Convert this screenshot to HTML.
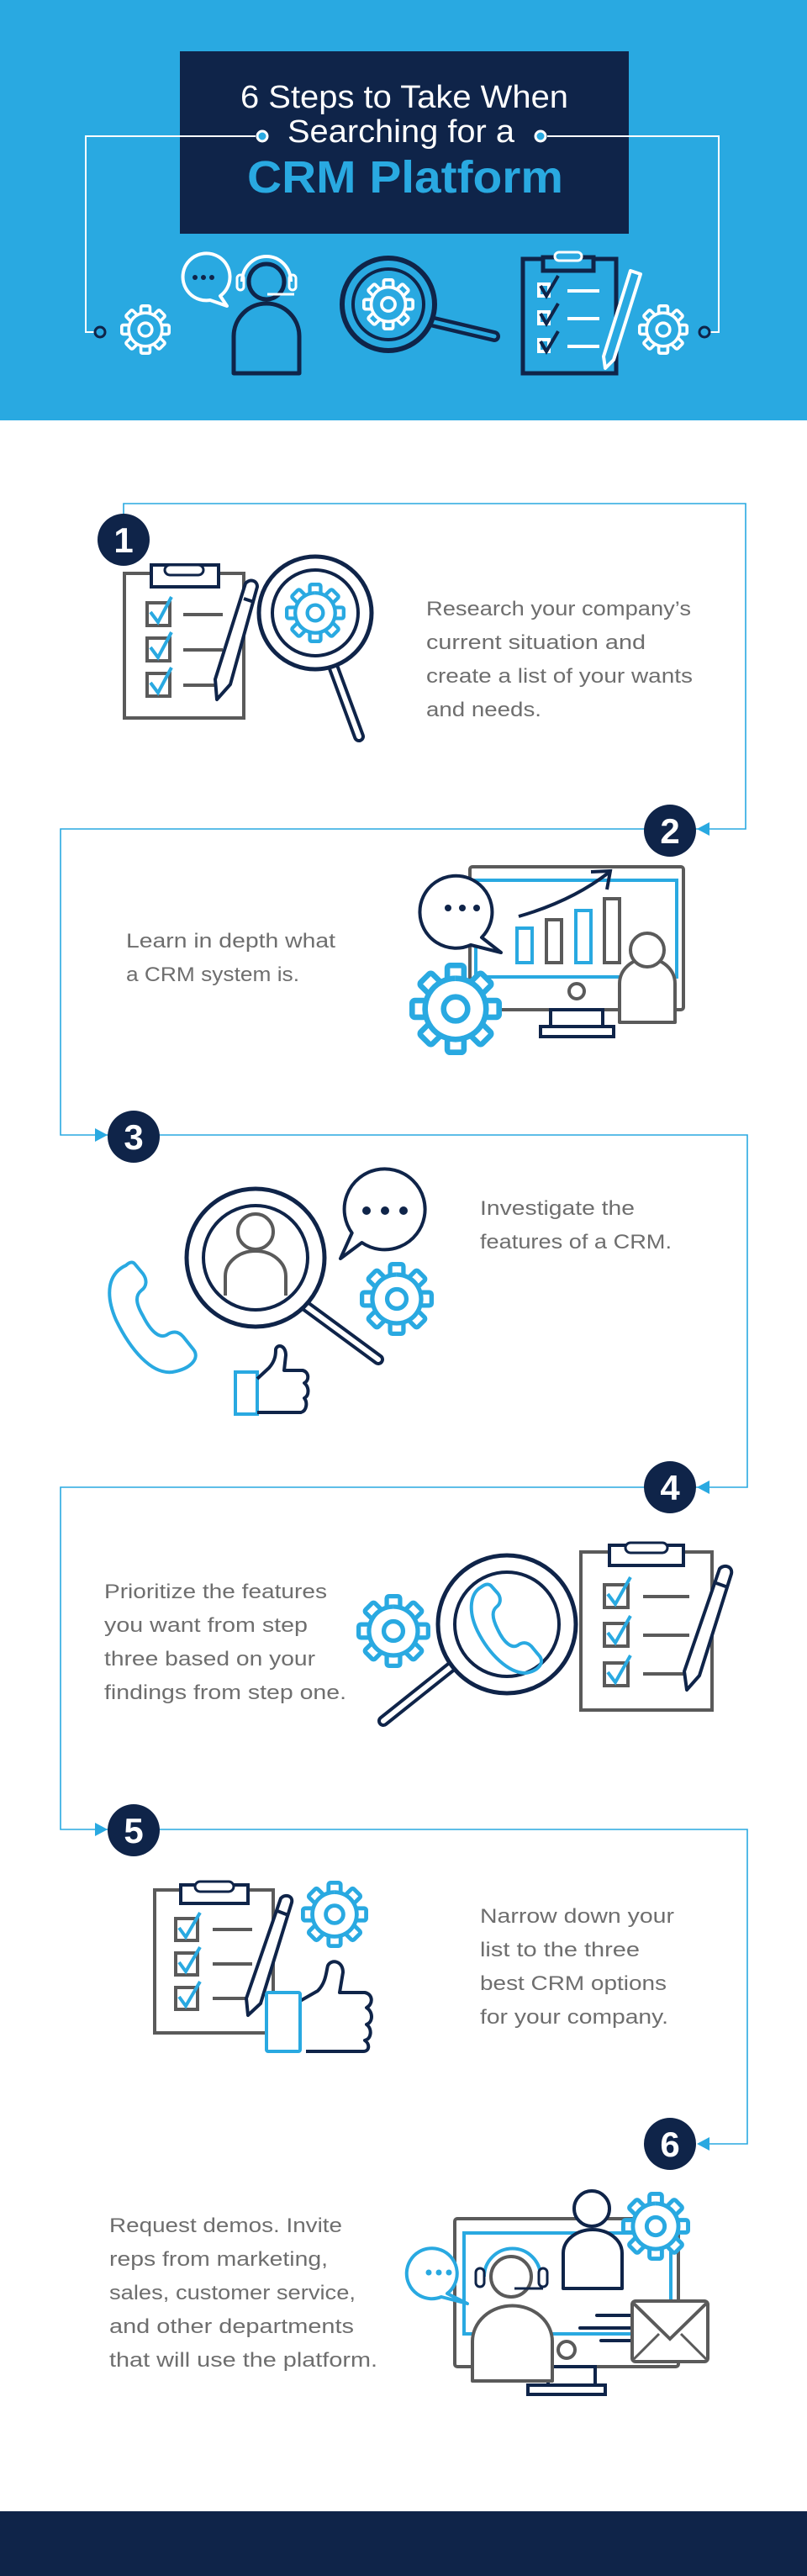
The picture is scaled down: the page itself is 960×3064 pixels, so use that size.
<!DOCTYPE html>
<html><head><meta charset="utf-8"><style>
html,body{margin:0;padding:0;background:#fff}
svg{display:block}
text{font-family:"Liberation Sans",sans-serif}
.b{font-size:24px;fill:#6e6e6e}
</style></head><body>
<svg width="960" height="3064" viewBox="0 0 960 3064" xmlns="http://www.w3.org/2000/svg">
<defs>
<symbol id="gear" viewBox="-50 -50 100 100" overflow="visible">
<g stroke-width="6">
<rect x="-9" y="-47" width="18" height="22" rx="3"/>
<rect x="-9" y="-47" width="18" height="22" rx="3" transform="rotate(45)"/>
<rect x="-9" y="-47" width="18" height="22" rx="3" transform="rotate(90)"/>
<rect x="-9" y="-47" width="18" height="22" rx="3" transform="rotate(135)"/>
<rect x="-9" y="-47" width="18" height="22" rx="3" transform="rotate(180)"/>
<rect x="-9" y="-47" width="18" height="22" rx="3" transform="rotate(225)"/>
<rect x="-9" y="-47" width="18" height="22" rx="3" transform="rotate(270)"/>
<rect x="-9" y="-47" width="18" height="22" rx="3" transform="rotate(315)"/>
<circle r="33" stroke="none"/>
<path d="M0,-33 A33,33 0 1 1 -0.1,-33" fill="none"/>
<circle r="13"/>
</g>
</symbol>
</defs>

<!-- HEADER -->
<rect x="0" y="0" width="960" height="500" fill="#29a9e1"/>
<rect x="214" y="61" width="534" height="217" fill="#0f2449"/>
<text x="481" y="128" text-anchor="middle" font-size="38" fill="#fff" textLength="390" lengthAdjust="spacingAndGlyphs">6 Steps to Take When</text>
<text x="477" y="169" text-anchor="middle" font-size="38" fill="#fff" textLength="270" lengthAdjust="spacingAndGlyphs">Searching for a</text>
<text x="482" y="229" text-anchor="middle" font-size="54" font-weight="bold" fill="#29a9e1" textLength="376" lengthAdjust="spacingAndGlyphs">CRM Platform</text>
<g stroke="#fff" stroke-width="2" fill="none">
<polyline points="304,162 102,162 102,395 113,395"/>
<polyline points="651,162 855,162 855,395 844,395"/>
</g>
<circle cx="312" cy="162" r="6" fill="#29a9e1" stroke="#fff" stroke-width="3"/>
<circle cx="643" cy="162" r="6" fill="#29a9e1" stroke="#fff" stroke-width="3"/>
<circle cx="119" cy="395" r="6" fill="#29a9e1" stroke="#0f2449" stroke-width="3"/>
<circle cx="838" cy="395" r="6" fill="#29a9e1" stroke="#0f2449" stroke-width="3"/>
<use href="#gear" x="143" y="362" width="60" height="60" stroke="#fff" fill="#29a9e1"/>
<use href="#gear" x="759" y="362" width="60" height="60" stroke="#fff" fill="#29a9e1"/>
<path d="M262,352 A28,28 0 1 0 250,357 L270,364 Z" fill="none" stroke="#fff" stroke-width="4" stroke-linejoin="round"/>
<circle cx="232" cy="330" r="3" fill="#0f2449"/><circle cx="242" cy="330" r="3" fill="#0f2449"/><circle cx="252" cy="330" r="3" fill="#0f2449"/>
<path d="M278,444 V400 A39,39 0 0 1 356,400 V444 Z" fill="none" stroke="#0f2449" stroke-width="5" stroke-linejoin="round"/>
<circle cx="317" cy="335" r="21" fill="#29a9e1" stroke="#0f2449" stroke-width="5"/>
<path d="M288,335 A29,30 0 0 1 346,335" fill="none" stroke="#fff" stroke-width="4"/>
<rect x="282" y="327" width="8" height="18" rx="4" fill="none" stroke="#fff" stroke-width="3"/>
<rect x="344" y="327" width="8" height="18" rx="4" fill="none" stroke="#fff" stroke-width="3"/>
<line x1="318" y1="350" x2="350" y2="350" stroke="#fff" stroke-width="3"/>
<line x1="512" y1="382" x2="588" y2="400" stroke="#0f2449" stroke-width="14" stroke-linecap="round"/>
<line x1="512" y1="382" x2="588" y2="400" stroke="#29a9e1" stroke-width="5" stroke-linecap="round"/>
<circle cx="462" cy="362" r="55" fill="#29a9e1" stroke="#0f2449" stroke-width="6"/>
<circle cx="462" cy="362" r="42" fill="none" stroke="#0f2449" stroke-width="4"/>
<use href="#gear" x="431" y="331" width="62" height="62" stroke="#fff" fill="#29a9e1"/>
<rect x="622" y="308" width="111" height="136" fill="none" stroke="#0f2449" stroke-width="5"/>
<rect x="646" y="306" width="60" height="16" fill="#29a9e1" stroke="#0f2449" stroke-width="5"/>
<rect x="660" y="300" width="32" height="10" rx="5" fill="#29a9e1" stroke="#fff" stroke-width="3"/>
<g stroke="#fff" stroke-width="4" fill="none">
<rect x="641" y="338" width="12" height="14"/><rect x="641" y="371" width="12" height="14"/><rect x="641" y="404" width="12" height="14"/>
<line x1="675" y1="346" x2="713" y2="346"/><line x1="675" y1="379" x2="713" y2="379"/><line x1="675" y1="412" x2="713" y2="412"/>
</g>
<g stroke="#0f2449" stroke-width="4" fill="none"><polyline points="643,340 650,352 664,328"/><polyline points="643,373 650,385 664,361"/><polyline points="643,406 650,418 664,394"/></g>
<path d="M750,322 L762,326 L730,428 L720,438 L718,424 Z" fill="#29a9e1" stroke="#fff" stroke-width="4" stroke-linejoin="round"/>

<!-- CONNECTORS -->
<g stroke="#29a9e1" stroke-width="1.6" fill="none">
<polyline points="147,612 147,599 887,599 887,986 72,986 72,1350 889,1350 889,1769 72,1769 72,2176 889,2176 889,2550 843,2550"/>
</g>
<g fill="#29a9e1">
<polygon points="829,986 844,978 844,994"/>
<polygon points="128,1350 113,1342 113,1358"/>
<polygon points="829,1769 844,1761 844,1777"/>
<polygon points="128,2176 113,2168 113,2184"/>
<polygon points="829,2550 844,2542 844,2558"/>
</g>
<g fill="#0f2449">
<circle cx="147" cy="642" r="31"/><circle cx="797" cy="988" r="31"/><circle cx="159" cy="1352" r="31"/>
<circle cx="797" cy="1769" r="31"/><circle cx="159" cy="2177" r="31"/><circle cx="797" cy="2550" r="31"/>
</g>
<g fill="#fff" font-size="42" font-weight="bold" text-anchor="middle">
<text x="147" y="657">1</text><text x="797" y="1003">2</text><text x="159" y="1367">3</text>
<text x="797" y="1784">4</text><text x="159" y="2192">5</text><text x="797" y="2565">6</text>
</g>

<!-- TEXT -->
<text class="b" x="507" y="732" textLength="315" lengthAdjust="spacingAndGlyphs">Research your company’s</text>
<text class="b" x="507" y="772" textLength="261" lengthAdjust="spacingAndGlyphs">current situation and</text>
<text class="b" x="507" y="812" textLength="317" lengthAdjust="spacingAndGlyphs">create a list of your wants</text>
<text class="b" x="507" y="852" textLength="137" lengthAdjust="spacingAndGlyphs">and needs.</text>

<text class="b" x="150" y="1127" textLength="249" lengthAdjust="spacingAndGlyphs">Learn in depth what</text>
<text class="b" x="150" y="1167" textLength="206" lengthAdjust="spacingAndGlyphs">a CRM system is.</text>

<text class="b" x="571" y="1445" textLength="184" lengthAdjust="spacingAndGlyphs">Investigate the</text>
<text class="b" x="571" y="1485" textLength="228" lengthAdjust="spacingAndGlyphs">features of a CRM.</text>

<text class="b" x="124" y="1901" textLength="265" lengthAdjust="spacingAndGlyphs">Prioritize the features</text>
<text class="b" x="124" y="1941" textLength="242" lengthAdjust="spacingAndGlyphs">you want from step</text>
<text class="b" x="124" y="1981" textLength="251" lengthAdjust="spacingAndGlyphs">three based on your</text>
<text class="b" x="124" y="2021" textLength="288" lengthAdjust="spacingAndGlyphs">findings from step one.</text>

<text class="b" x="571" y="2287" textLength="231" lengthAdjust="spacingAndGlyphs">Narrow down your</text>
<text class="b" x="571" y="2327" textLength="190" lengthAdjust="spacingAndGlyphs">list to the three</text>
<text class="b" x="571" y="2367" textLength="222" lengthAdjust="spacingAndGlyphs">best CRM options</text>
<text class="b" x="571" y="2407" textLength="224" lengthAdjust="spacingAndGlyphs">for your company.</text>

<text class="b" x="130" y="2655" textLength="277" lengthAdjust="spacingAndGlyphs">Request demos. Invite</text>
<text class="b" x="130" y="2695" textLength="260" lengthAdjust="spacingAndGlyphs">reps from marketing,</text>
<text class="b" x="130" y="2735" textLength="293" lengthAdjust="spacingAndGlyphs">sales, customer service,</text>
<text class="b" x="130" y="2775" textLength="291" lengthAdjust="spacingAndGlyphs">and other departments</text>
<text class="b" x="130" y="2815" textLength="319" lengthAdjust="spacingAndGlyphs">that will use the platform.</text>

<!-- STEP 1 ICONS -->
<rect x="148" y="682" width="142" height="172" fill="none" stroke="#5a5a5a" stroke-width="4"/>
<rect x="180" y="672" width="80" height="26" fill="#fff" stroke="#0f2449" stroke-width="4"/>
<rect x="196" y="672" width="46" height="12" rx="6" fill="#fff" stroke="#0f2449" stroke-width="3"/>
<g stroke="#5a5a5a" stroke-width="4" fill="none">
<rect x="175" y="717" width="27" height="27"/><rect x="175" y="759" width="27" height="27"/><rect x="175" y="801" width="27" height="27"/>
<line x1="218" y1="731" x2="265" y2="731"/><line x1="218" y1="773" x2="265" y2="773"/><line x1="218" y1="815" x2="265" y2="815"/>
</g>
<g stroke="#29a9e1" stroke-width="4" fill="none"><polyline points="179,728 188,740 204,710"/><polyline points="179,770 188,782 204,752"/><polyline points="179,812 188,824 204,794"/></g>
<path d="M292,694 C297,688 306,690 306,698 L274,814 L258,832 L256,808 Z" fill="#fff" stroke="#0f2449" stroke-width="4" stroke-linejoin="round"/>
<line x1="290" y1="712" x2="302" y2="716" stroke="#0f2449" stroke-width="4"/>
<line x1="396" y1="792" x2="427" y2="876" stroke="#0f2449" stroke-width="14" stroke-linecap="round"/>
<line x1="396" y1="792" x2="427" y2="876" stroke="#fff" stroke-width="6" stroke-linecap="round"/>
<circle cx="375" cy="729" r="67" fill="#fff" stroke="#0f2449" stroke-width="5"/>
<circle cx="375" cy="729" r="51" fill="none" stroke="#0f2449" stroke-width="4"/>
<use href="#gear" x="339" y="693" width="72" height="72" stroke="#29a9e1" fill="#fff"/>

<!-- STEP 2 ICONS -->
<rect x="559" y="1031" width="254" height="170" rx="3" fill="#fff" stroke="#5a5a5a" stroke-width="4"/>
<rect x="566" y="1047" width="239" height="115" fill="none" stroke="#29a9e1" stroke-width="4"/>
<circle cx="686" cy="1179" r="9" fill="none" stroke="#5a5a5a" stroke-width="4"/>
<rect x="655" y="1201" width="62" height="20" fill="none" stroke="#0f2449" stroke-width="4"/>
<rect x="643" y="1221" width="87" height="12" fill="none" stroke="#0f2449" stroke-width="4"/>
<g fill="none" stroke-width="4">
<rect x="615" y="1104" width="18" height="41" stroke="#29a9e1"/>
<rect x="650" y="1094" width="18" height="51" stroke="#5a5a5a"/>
<rect x="685" y="1083" width="18" height="62" stroke="#29a9e1"/>
<rect x="719" y="1069" width="18" height="76" stroke="#5a5a5a"/>
</g>
<path d="M617,1090 Q680,1072 724,1038" fill="none" stroke="#0f2449" stroke-width="4"/>
<polyline points="703,1037 726,1036 722,1058" fill="none" stroke="#0f2449" stroke-width="4"/>
<path d="M573,1115 A43,43 0 1 0 560,1124 L596,1133 Z" fill="#fff" stroke="#0f2449" stroke-width="4" stroke-linejoin="round"/>
<circle cx="533" cy="1080" r="4" fill="#0f2449"/><circle cx="550" cy="1080" r="4" fill="#0f2449"/><circle cx="567" cy="1080" r="4" fill="#0f2449"/>
<use href="#gear" x="487" y="1145" width="110" height="110" stroke="#29a9e1" fill="#fff"/>
<path d="M737,1216 V1170 A33,30 0 0 1 803,1170 V1216 Z" fill="#fff" stroke="#5a5a5a" stroke-width="4" stroke-linejoin="round"/>
<circle cx="770" cy="1130" r="20" fill="#fff" stroke="#5a5a5a" stroke-width="4"/>

<!-- STEP 3 ICONS -->
<path d="M150,1505 C128,1515 125,1540 138,1570 C155,1605 180,1635 205,1632 C228,1628 238,1615 230,1605 L218,1590 C212,1583 205,1583 198,1588 C190,1592 180,1585 170,1565 C160,1548 162,1540 168,1535 C175,1530 175,1522 170,1515 L160,1503 C157,1500 153,1502 150,1505 Z" fill="none" stroke="#29a9e1" stroke-width="4" stroke-linejoin="round"/>
<line x1="363" y1="1553" x2="450" y2="1617" stroke="#0f2449" stroke-width="14" stroke-linecap="round"/>
<line x1="363" y1="1553" x2="450" y2="1617" stroke="#fff" stroke-width="6" stroke-linecap="round"/>
<circle cx="304" cy="1496" r="82" fill="#fff" stroke="#0f2449" stroke-width="5"/>
<circle cx="304" cy="1496" r="62" fill="none" stroke="#0f2449" stroke-width="4"/>
<circle cx="304" cy="1465" r="21" fill="none" stroke="#5a5a5a" stroke-width="4"/>
<path d="M268,1541 V1518 A36,30 0 0 1 340,1518 V1541" fill="none" stroke="#5a5a5a" stroke-width="4"/>
<path d="M430.5,1478 A48,48 0 1 0 418.7,1466.5 L405,1497 Z" fill="#fff" stroke="#0f2449" stroke-width="4" stroke-linejoin="round"/>
<circle cx="436" cy="1440" r="5" fill="#0f2449"/><circle cx="458" cy="1440" r="5" fill="#0f2449"/><circle cx="480" cy="1440" r="5" fill="#0f2449"/>
<use href="#gear" x="428" y="1501" width="88" height="88" stroke="#29a9e1" fill="#fff"/>
<rect x="280" y="1632" width="26" height="50" fill="none" stroke="#29a9e1" stroke-width="4"/>
<path d="M306,1640 L320,1627 C328,1618 328,1610 328,1605 C330,1598 340,1600 340,1612 L338,1630 L360,1630 C368,1632 368,1642 362,1645 C368,1650 368,1660 362,1663 C366,1668 365,1678 358,1680 L306,1680" fill="none" stroke="#0f2449" stroke-width="4" stroke-linejoin="round"/>

<!-- STEP 4 ICONS -->
<use href="#gear" x="424" y="1896" width="88" height="88" stroke="#29a9e1" fill="#fff"/>
<line x1="540" y1="1980" x2="456" y2="2047" stroke="#0f2449" stroke-width="14" stroke-linecap="round"/>
<line x1="540" y1="1980" x2="456" y2="2047" stroke="#fff" stroke-width="6" stroke-linecap="round"/>
<circle cx="603" cy="1932" r="82" fill="#fff" stroke="#0f2449" stroke-width="5"/>
<circle cx="603" cy="1932" r="62" fill="none" stroke="#0f2449" stroke-width="4"/>
<path d="M572,1888 C560,1895 556,1915 568,1940 C582,1968 605,1990 625,1990 C640,1988 648,1978 642,1970 L632,1958 C627,1953 621,1953 616,1957 C609,1961 600,1955 592,1938 C584,1922 586,1915 591,1911 C596,1907 596,1900 592,1895 L584,1886 C580,1883 576,1885 572,1888 Z" fill="none" stroke="#29a9e1" stroke-width="4" stroke-linejoin="round"/>
<rect x="691" y="1846" width="156" height="188" fill="#fff" stroke="#5a5a5a" stroke-width="4"/>
<rect x="725" y="1838" width="88" height="24" fill="#fff" stroke="#0f2449" stroke-width="4"/>
<rect x="744" y="1835" width="50" height="12" rx="6" fill="#fff" stroke="#0f2449" stroke-width="3"/>
<g stroke="#5a5a5a" stroke-width="4" fill="none">
<rect x="719" y="1885" width="28" height="27"/><rect x="719" y="1931" width="28" height="27"/><rect x="719" y="1978" width="28" height="27"/>
<line x1="765" y1="1899" x2="820" y2="1899"/><line x1="765" y1="1945" x2="820" y2="1945"/><line x1="765" y1="1991" x2="820" y2="1991"/>
</g>
<g stroke="#29a9e1" stroke-width="4" fill="none"><polyline points="723,1896 732,1908 750,1876"/><polyline points="723,1942 732,1954 750,1922"/><polyline points="723,1989 732,2001 750,1969"/></g>
<path d="M856,1866 C861,1860 872,1863 870,1872 L832,1993 L817,2010 L814,1988 Z" fill="#fff" stroke="#0f2449" stroke-width="4" stroke-linejoin="round"/>
<line x1="852" y1="1883" x2="866" y2="1888" stroke="#0f2449" stroke-width="4"/>

<!-- STEP 5 ICONS -->
<rect x="184" y="2248" width="141" height="170" fill="#fff" stroke="#5a5a5a" stroke-width="4"/>
<rect x="215" y="2242" width="80" height="22" fill="#fff" stroke="#0f2449" stroke-width="4"/>
<rect x="232" y="2238" width="46" height="12" rx="6" fill="#fff" stroke="#0f2449" stroke-width="3"/>
<g stroke="#5a5a5a" stroke-width="4" fill="none">
<rect x="209" y="2282" width="26" height="26"/><rect x="209" y="2323" width="26" height="26"/><rect x="209" y="2364" width="26" height="26"/>
<line x1="253" y1="2295" x2="300" y2="2295"/><line x1="253" y1="2336" x2="300" y2="2336"/><line x1="253" y1="2377" x2="300" y2="2377"/>
</g>
<g stroke="#29a9e1" stroke-width="4" fill="none"><polyline points="213,2293 221,2304 238,2275"/><polyline points="213,2334 221,2345 238,2316"/><polyline points="213,2375 221,2386 238,2357"/></g>
<path d="M334,2258 C339,2252 349,2255 347,2263 L310,2383 L295,2397 L293,2377 Z" fill="#fff" stroke="#0f2449" stroke-width="4" stroke-linejoin="round"/>
<line x1="330" y1="2273" x2="343" y2="2278" stroke="#0f2449" stroke-width="4"/>
<use href="#gear" x="358" y="2237" width="80" height="80" stroke="#29a9e1" fill="#fff"/>
<path d="M357,2380 L378,2368 C388,2358 388,2345 390,2338 C394,2330 408,2332 408,2346 L404,2370 L434,2370 C444,2372 444,2384 436,2388 C444,2393 444,2405 436,2408 C443,2413 442,2425 434,2427 C440,2431 440,2440 432,2440 L364,2440" fill="#fff" stroke="#0f2449" stroke-width="4" stroke-linejoin="round"/>
<rect x="317" y="2370" width="40" height="70" rx="2" fill="#fff" stroke="#29a9e1" stroke-width="4"/>

<!-- STEP 6 ICONS -->
<rect x="541" y="2639" width="266" height="176" rx="3" fill="#fff" stroke="#5a5a5a" stroke-width="4"/>
<rect x="552" y="2656" width="246" height="120" fill="none" stroke="#29a9e1" stroke-width="4"/>
<circle cx="674" cy="2795" r="10" fill="none" stroke="#5a5a5a" stroke-width="4"/>
<rect x="652" y="2815" width="56" height="22" fill="none" stroke="#0f2449" stroke-width="4"/>
<rect x="628" y="2837" width="92" height="11" fill="#fff" stroke="#0f2449" stroke-width="4"/>
<path d="M670,2722 V2680 A35,28 0 0 1 740,2680 V2722 Z" fill="#fff" stroke="#0f2449" stroke-width="4" stroke-linejoin="round"/>
<circle cx="704" cy="2627" r="21" fill="#fff" stroke="#0f2449" stroke-width="4"/>
<use href="#gear" x="739" y="2607" width="82" height="82" stroke="#29a9e1" fill="#fff"/>
<g stroke="#0f2449" stroke-width="4" stroke-linecap="round"><line x1="710" y1="2754" x2="758" y2="2754"/><line x1="690" y1="2769" x2="758" y2="2769"/><line x1="715" y1="2784" x2="758" y2="2784"/></g>
<rect x="752" y="2737" width="90" height="72" rx="4" fill="#fff" stroke="#5a5a5a" stroke-width="4"/>
<polyline points="754,2740 797,2782 840,2740" fill="none" stroke="#5a5a5a" stroke-width="4"/>
<line x1="754" y1="2806" x2="784" y2="2776" stroke="#5a5a5a" stroke-width="3"/><line x1="840" y1="2806" x2="810" y2="2776" stroke="#5a5a5a" stroke-width="3"/>
<path d="M532,2728 A30,30 0 1 0 525,2732 L556,2740 Z" fill="#fff" stroke="#29a9e1" stroke-width="4" stroke-linejoin="round"/>
<circle cx="510" cy="2703" r="3.5" fill="#29a9e1"/><circle cx="522" cy="2703" r="3.5" fill="#29a9e1"/><circle cx="534" cy="2703" r="3.5" fill="#29a9e1"/>
<path d="M562,2832 V2785 A47,42 0 0 1 657,2785 V2832 Z" fill="#fff" stroke="#5a5a5a" stroke-width="4" stroke-linejoin="round"/>
<circle cx="608" cy="2708" r="24" fill="#fff" stroke="#5a5a5a" stroke-width="4"/>
<path d="M576,2708 A33,33 0 0 1 643,2708" fill="none" stroke="#29a9e1" stroke-width="4"/>
<rect x="566" y="2698" width="10" height="22" rx="5" fill="#fff" stroke="#0f2449" stroke-width="3"/>
<rect x="641" y="2698" width="10" height="22" rx="5" fill="#fff" stroke="#0f2449" stroke-width="3"/>
<line x1="612" y1="2722" x2="646" y2="2722" stroke="#0f2449" stroke-width="3"/>

<!-- FOOTER -->
<rect x="0" y="2987" width="960" height="77" fill="#0f2449"/>
</svg>
</body></html>
